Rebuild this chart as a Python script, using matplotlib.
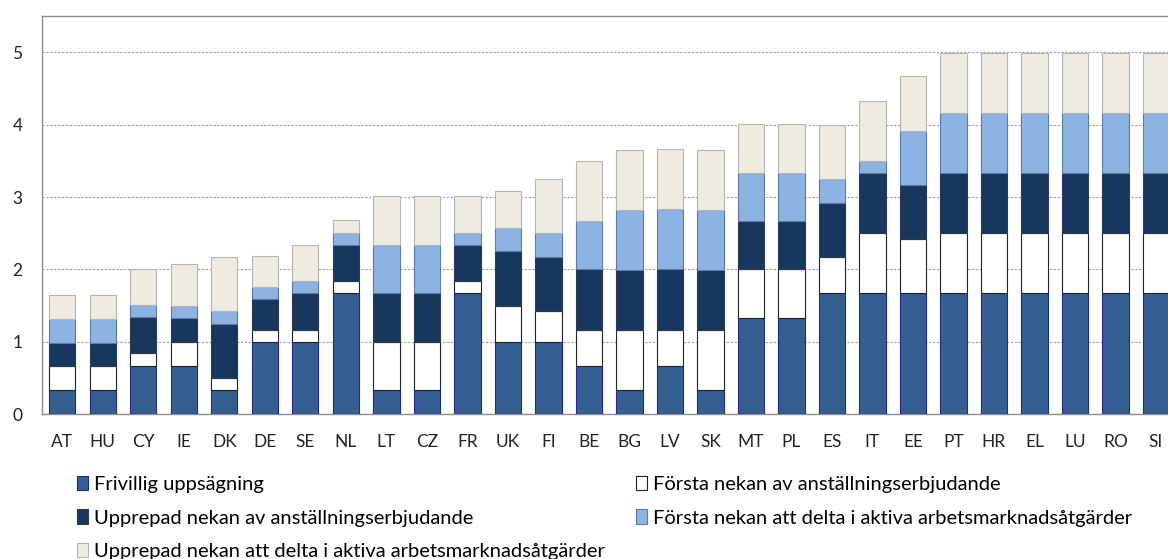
import numpy as np
import matplotlib.pyplot as plt

countries = ["AT", "HU", "CY", "IE", "DK", "DE", "SE", "NL", "LT", "CZ", "FR", "UK", "FI", "BE",
             "BG", "LV", "SK", "MT", "PL", "ES", "IT", "EE", "PT", "HR", "EL", "LU", "RO", "SI"]

series_names = [
    "Frivillig uppsägning",
    "Första nekan av anställningserbjudande",
    "Upprepad nekan av anställningserbjudande",
    "Första nekan att delta i aktiva arbetsmarknadsåtgärder",
    "Upprepad nekan att delta i aktiva arbetsmarknadsåtgärder",
]

frivillig = [0.33, 0.33, 0.67, 0.67, 0.33, 1.00, 1.00, 1.67, 0.33, 0.33, 1.67, 1.00, 1.00, 0.67,
             0.33, 0.67, 0.33, 1.33, 1.33, 1.67, 1.67, 1.67, 1.67, 1.67, 1.67, 1.67, 1.67, 1.67]
forsta_anst = [0.33, 0.33, 0.17, 0.33, 0.17, 0.17, 0.17, 0.17, 0.67, 0.67, 0.17, 0.50, 0.42, 0.50,
               0.83, 0.50, 0.83, 0.67, 0.67, 0.50, 0.83, 0.75, 0.83, 0.83, 0.83, 0.83, 0.83, 0.83]
upprepad_anst = [0.33, 0.33, 0.50, 0.33, 0.75, 0.42, 0.50, 0.50, 0.67, 0.67, 0.50, 0.75, 0.75, 0.83,
                 0.83, 0.83, 0.83, 0.67, 0.67, 0.75, 0.83, 0.75, 0.83, 0.83, 0.83, 0.83, 0.83, 0.83]
forsta_aktiva = [0.33, 0.33, 0.17, 0.17, 0.17, 0.17, 0.17, 0.17, 0.67, 0.67, 0.17, 0.33, 0.33, 0.67,
                 0.83, 0.83, 0.83, 0.67, 0.67, 0.33, 0.17, 0.75, 0.83, 0.83, 0.83, 0.83, 0.83, 0.83]
upprepad_aktiva = [0.33, 0.33, 0.50, 0.58, 0.75, 0.42, 0.50, 0.17, 0.67, 0.67, 0.50, 0.50, 0.75, 0.83,
                   0.83, 0.83, 0.83, 0.67, 0.67, 0.75, 0.83, 0.75, 0.83, 0.83, 0.83, 0.83, 0.83, 0.83]

colors = ["#365F91", "#FFFFFF", "#17375E", "#8DB3E2", "#EEECE1"]
edges = ["#1F2A8C", "#222222", "#2A3A55", "#5A7AA8", "#B5B5B5"]

plt.rcParams["font.family"] = ["Lato", "DejaVu Sans"]

fig = plt.figure(figsize=(11.68, 5.59), dpi=100)
ax = fig.add_axes([0.036, 0.259, 0.971, 0.712])

x = np.arange(len(countries))
bottom = np.zeros(len(countries))
handles = []
for vals, name, c, ec in zip([frivillig, forsta_anst, upprepad_anst, forsta_aktiva, upprepad_aktiva],
                             series_names, colors, edges):
    vals = np.array(vals)
    b = ax.bar(x, vals, bottom=bottom, width=0.65, color=c, edgecolor=ec,
               linewidth=0.8, label=name, zorder=3)
    handles.append(b)
    bottom += vals

ax.set_xlim(-0.5, len(countries) - 0.5)
ax.set_ylim(0, 5.5)
ax.set_yticks([0, 1, 2, 3, 4, 5])
ax.set_xticks(x)
ax.set_xticklabels(countries)
ax.tick_params(length=0, labelsize=12.5, colors="#222222", pad=14)
ax.tick_params(axis="y", pad=14)
ax.yaxis.grid(True, linestyle=(0, (2, 1.5)), color="#A0A0A0", linewidth=0.8, zorder=0)
for s in ["left", "top", "bottom", "right"]:
    ax.spines[s].set_color("#8C8C8C")
    ax.spines[s].set_linewidth(1.0)

# row-wise ordering for a two-column legend
order = [0, 2, 4, 1, 3]
fig.legend([handles[i] for i in order], [series_names[i] for i in order],
           loc="upper left", bbox_to_anchor=(0.066, 0.149), ncol=2, frameon=False,
           fontsize=14.5, handlelength=0.55, handleheight=0.75, handletextpad=0.3,
           labelspacing=0.8, columnspacing=1.55, borderaxespad=0, borderpad=0)

fig.savefig("out.png", dpi=100)
